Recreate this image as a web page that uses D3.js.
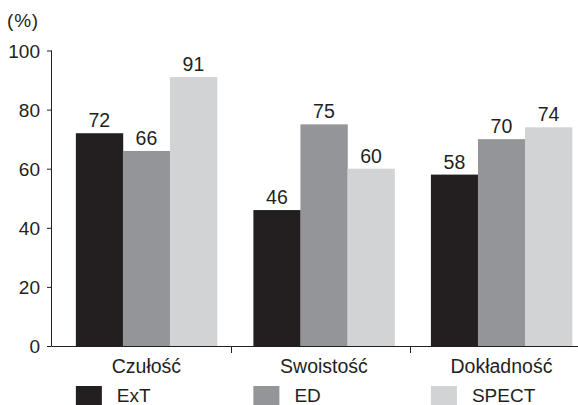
<!DOCTYPE html>
<html>
<head>
<meta charset="utf-8">
<script src="https://cdn.jsdelivr.net/npm/d3@7"></script>
<style>
  body { margin: 0; background: #fff; }
  svg text { font-family: "Liberation Sans", Arial, sans-serif; fill: #231f20; }
</style>
</head>
<body>
<svg id="chart" width="578" height="405"></svg>
<script>
// --- dane ---
const categories = ["Czułość", "Swoistość", "Dokładność"];
const seriesNames = ["ExT", "ED", "SPECT"];
const valuesExT = [72, 46, 58];
const valuesED = [66, 75, 70];
const valuesSPECT = [91, 60, 74];
const yTicks = [0, 20, 40, 60, 80, 100];

const colors = ["#231f20", "#939598", "#d1d3d4"];
const series = [valuesExT, valuesED, valuesSPECT];

const svg = d3.select("#chart");

const y = d3.scaleLinear().domain([0, 100]).range([346, 50.5]);

// pasma kategorii (do podziałek osi X)
const xCat = d3.scaleBand().domain(categories).range([53, 590]).padding(0);

// grupy słupków
const xGroup = d3.scaleBand().domain(categories).range([53, 590])
    .paddingInner(0.205).paddingOuter(0.115).align(0.56);

const xSeries = d3.scaleBand().domain(seriesNames).range([0, xGroup.bandwidth()]).padding(0);

// --- słupki ---
const groups = svg.selectAll("g.grp")
    .data(categories)
    .join("g")
    .attr("class", "grp")
    .attr("transform", d => `translate(${xGroup(d)},0)`);

groups.selectAll("rect")
    .data((c, i) => seriesNames.map((s, j) => ({s: s, v: series[j][i], j: j})))
    .join("rect")
    .attr("x", d => xSeries(d.s))
    .attr("y", d => y(d.v))
    .attr("width", xSeries.bandwidth() + 0.3)
    .attr("height", d => y(0) - y(d.v))
    .attr("fill", d => colors[d.j]);

groups.selectAll("text.val")
    .data((c, i) => seriesNames.map((s, j) => ({s: s, v: series[j][i]})))
    .join("text")
    .attr("class", "val")
    .attr("x", d => xSeries(d.s) + xSeries.bandwidth() / 2)
    .attr("y", d => y(d.v) - 6)
    .attr("text-anchor", "middle")
    .style("font-size", "19.5px")
    .text(d => d.v);

// --- oś Y ---
const yAxis = d3.axisLeft(y).tickValues(yTicks).tickSize(4.5).tickPadding(7);
const gy = svg.append("g").attr("transform", "translate(51.5,0)").call(yAxis);
gy.select(".domain").attr("stroke", "#231f20").attr("d", `M0,${y(100)}V${y(0)}`);
gy.selectAll(".tick line").attr("stroke", "#231f20");
gy.selectAll(".tick text")
    .style("font-size", "19px")
    .style("font-family", "'Liberation Sans', Arial, sans-serif")
    .attr("fill", "#231f20")
    .attr("dy", "0.36em");

svg.append("text")
    .attr("x", 7)
    .attr("y", 27)
    .style("font-size", "19px")
    .style("letter-spacing", "0.8px")
    .text("(%)");

// --- oś X ---
svg.append("line")
    .attr("x1", 51.5).attr("x2", 578)
    .attr("y1", y(0) + 0.5).attr("y2", y(0) + 0.5)
    .attr("stroke", "#231f20");

svg.selectAll("line.sep")
    .data(categories.slice(1))
    .join("line")
    .attr("class", "sep")
    .attr("x1", d => xCat(d) - 0.5).attr("x2", d => xCat(d) - 0.5)
    .attr("y1", y(0)).attr("y2", y(0) + 7)
    .attr("stroke", "#231f20");

svg.selectAll("text.cat")
    .data(categories)
    .join("text")
    .attr("class", "cat")
    .attr("x", d => xGroup(d) + xGroup.bandwidth() / 2)
    .attr("y", 373)
    .attr("text-anchor", "middle")
    .style("font-size", "19.5px")
    .text(d => d);

// --- legenda ---
const leg = svg.selectAll("g.leg")
    .data(seriesNames)
    .join("g")
    .attr("class", "leg")
    .attr("transform", (d, i) => `translate(${xGroup(categories[i])},386)`);

leg.append("rect")
    .attr("width", 26)
    .attr("height", 19)
    .attr("fill", (d, i) => colors[i]);

leg.append("text")
    .attr("x", 41)
    .attr("y", 16)
    .style("font-size", "19px")
    .text(d => d);
</script>
</body>
</html>
